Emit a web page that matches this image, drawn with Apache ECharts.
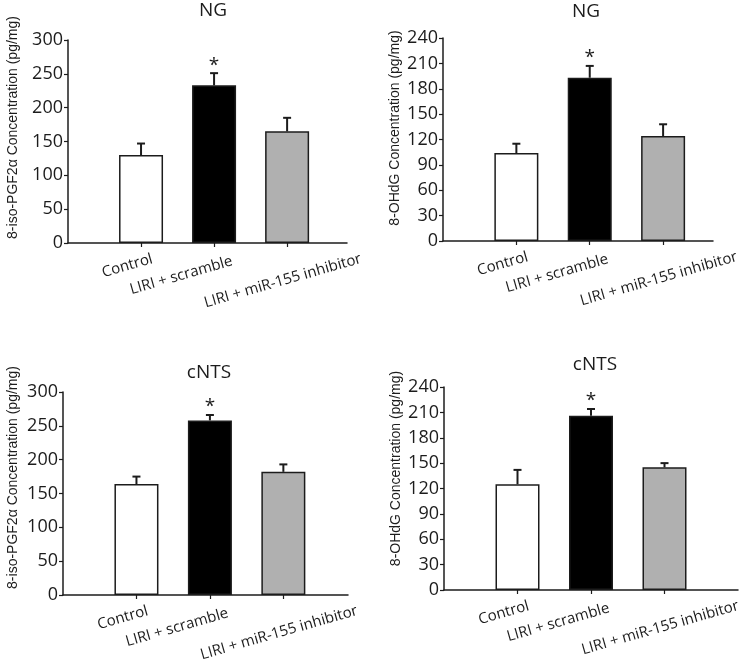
<!DOCTYPE html>
<html>
<head>
<meta charset="utf-8">
<script src="https://cdn.jsdelivr.net/npm/echarts@6/dist/echarts.min.js"></script>
<style>
html, body { margin: 0; padding: 0; background: #ffffff; }
#chart { width: 742px; height: 668px; }
</style>
</head>
<body>
<div id="chart"></div>
<script>
// ---------------- DATA ----------------
const categories = ['Control', 'LIRI + scramble', 'LIRI + miR-155 inhibitor'];
const panelTitles = ['NG', 'NG', 'cNTS', 'cNTS'];
const yAxisNames = [
  '8-iso-PGF2\u03B1 Concentration (pg/mg)',
  '8-OHdG Concentration (pg/mg)',
  '8-iso-PGF2\u03B1 Concentration (pg/mg)',
  '8-OHdG Concentration (pg/mg)'
];
const ngIsoValues = [130, 233, 165];
const ngIsoErrors = [17, 18, 20];
const ngOhdgValues = [104, 193, 124];
const ngOhdgErrors = [11, 14, 14];
const cntsIsoValues = [164, 258, 182];
const cntsIsoErrors = [11, 8, 11];
const cntsOhdgValues = [125, 206, 145];
const cntsOhdgErrors = [17, 8, 5];
const significant = [false, true, false];
const isoAxisMax = 300, isoAxisStep = 50;
const ohdgAxisMax = 240, ohdgAxisStep = 30;

// ---------------- STYLE / LAYOUT ----------------
const barFills = ['#ffffff', '#000000', '#b0b0b0'];
const ink = '#1c1c1c';
const tickFont = '"Open Sans", Lato, sans-serif';
const nameFont = '"Liberation Sans", Arial, sans-serif';

const panels = [
  { values: ngIsoValues, errors: ngIsoErrors, yMax: isoAxisMax, yStep: isoAxisStep,
    grid: { left: 68, top: 40, width: 279, height: 203 }, xMax: 3.82, nameGap: 48, nameShift: 28,
    title: { x: 213, y: 1 } },
  { values: ngOhdgValues, errors: ngOhdgErrors, yMax: ohdgAxisMax, yStep: ohdgAxisStep,
    grid: { left: 443, top: 38, width: 270, height: 203 }, xMax: 3.68, nameGap: 41, nameShift: 23,
    title: { x: 586, y: 2 } },
  { values: cntsIsoValues, errors: cntsIsoErrors, yMax: isoAxisMax, yStep: isoAxisStep,
    grid: { left: 63, top: 392, width: 285, height: 203 }, xMax: 3.88, nameGap: 43, nameShift: 32,
    title: { x: 209, y: 363 } },
  { values: cntsOhdgValues, errors: cntsOhdgErrors, yMax: ohdgAxisMax, yStep: ohdgAxisStep,
    grid: { left: 444, top: 387, width: 294, height: 203 }, xMax: 4.0, nameGap: 41, nameShift: 40,
    title: { x: 595, y: 355 } }
];

const catPositions = categories.map((_, i) => i + 1);
const labelRich = {
  l0: { padding: [0, 28, 2, 0], fontFamily: tickFont, fontSize: 15, color: ink },
  l1: { padding: [6, 70, 0, 0], fontFamily: tickFont, fontSize: 15, color: ink },
  l2: { padding: [32, 18, 0, 0], fontFamily: tickFont, fontSize: 15, color: ink }
};

function errorRender(params, api) {
  const x = api.value(0), v = api.value(1), e = api.value(2), sig = api.value(3);
  const p0 = api.coord([x, v]);
  const p1 = api.coord([x, v + e]);
  const children = [
    { type: 'line', shape: { x1: p0[0], y1: p0[1], x2: p1[0], y2: p1[1] },
      style: { stroke: ink, lineWidth: 2 } },
    { type: 'line', shape: { x1: p1[0] - 4, y1: p1[1], x2: p1[0] + 4, y2: p1[1] },
      style: { stroke: ink, lineWidth: 2 } }
  ];
  if (sig) {
    children.push({ type: 'text', x: p1[0], y: p1[1] - 8,
      style: { text: '*', fontSize: 19, fontFamily: tickFont, fill: ink, align: 'center', verticalAlign: 'middle' } });
  }
  return { type: 'group', children: children };
}

const option = {
  backgroundColor: '#ffffff',
  animation: false,
  title: panels.map((p, i) => ({
    text: panelTitles[i], left: p.title.x, top: p.title.y, textAlign: 'center', padding: 0,
    textStyle: { fontFamily: tickFont, fontSize: 19, fontWeight: 'normal', color: ink }
  })),
  grid: panels.map(p => Object.assign({ containLabel: false, outerBoundsMode: 'none' }, p.grid)),
  xAxis: panels.map((p, i) => ({
    gridIndex: i, type: 'value', min: 0, max: p.xMax, interval: 1,
    axisLine: { show: true, lineStyle: { color: ink, width: 1.5 } },
    axisTick: { show: true, length: 4, customValues: catPositions, lineStyle: { color: ink, width: 1.2 } },
    splitLine: { show: false },
    axisLabel: {
      customValues: catPositions, rotate: 16, align: 'center', verticalAlign: 'middle', margin: 20,
      fontFamily: tickFont, fontSize: 15, color: ink, rich: labelRich,
      formatter: function (val) {
        const k = Math.round(val) - 1;
        if (k < 0 || k >= categories.length || Math.abs(val - Math.round(val)) > 1e-6) return '';
        return '{l' + k + '|' + categories[k] + '}';
      }
    }
  })),
  yAxis: panels.map((p, i) => ({
    gridIndex: i, type: 'value', min: 0, max: p.yMax, interval: p.yStep,
    axisLine: { show: true, lineStyle: { color: ink, width: 1.5 } },
    axisTick: { show: true, length: 4, lineStyle: { color: ink, width: 1.2 } },
    splitLine: { show: false },
    axisLabel: { fontFamily: tickFont, fontSize: 18, color: ink, margin: 5 },
    name: '{n|' + yAxisNames[i] + '}', nameLocation: 'middle', nameGap: p.nameGap, nameRotate: 90,
    nameTextStyle: {
      fontFamily: nameFont, fontSize: 14, color: ink,
      rich: { n: { fontFamily: nameFont, fontSize: 14, color: ink, padding: [0, 0, 0, p.nameShift] } }
    }
  })),
  series: panels.flatMap((p, i) => [
    {
      type: 'bar', xAxisIndex: i, yAxisIndex: i, barWidth: 44, z: 2,
      data: p.values.map((v, k) => ({
        value: [catPositions[k], v],
        itemStyle: { color: barFills[k], borderColor: ink, borderWidth: 1.5 }
      }))
    },
    {
      type: 'custom', xAxisIndex: i, yAxisIndex: i, z: 3,
      encode: { x: 0, y: 1 },
      renderItem: errorRender,
      data: p.values.map((v, k) => [catPositions[k], v, p.errors[k], significant[k] ? 1 : 0])
    }
  ])
};

const chart = echarts.init(document.getElementById('chart'), null, { renderer: 'canvas' });
chart.setOption(option);
</script>
</body>
</html>
